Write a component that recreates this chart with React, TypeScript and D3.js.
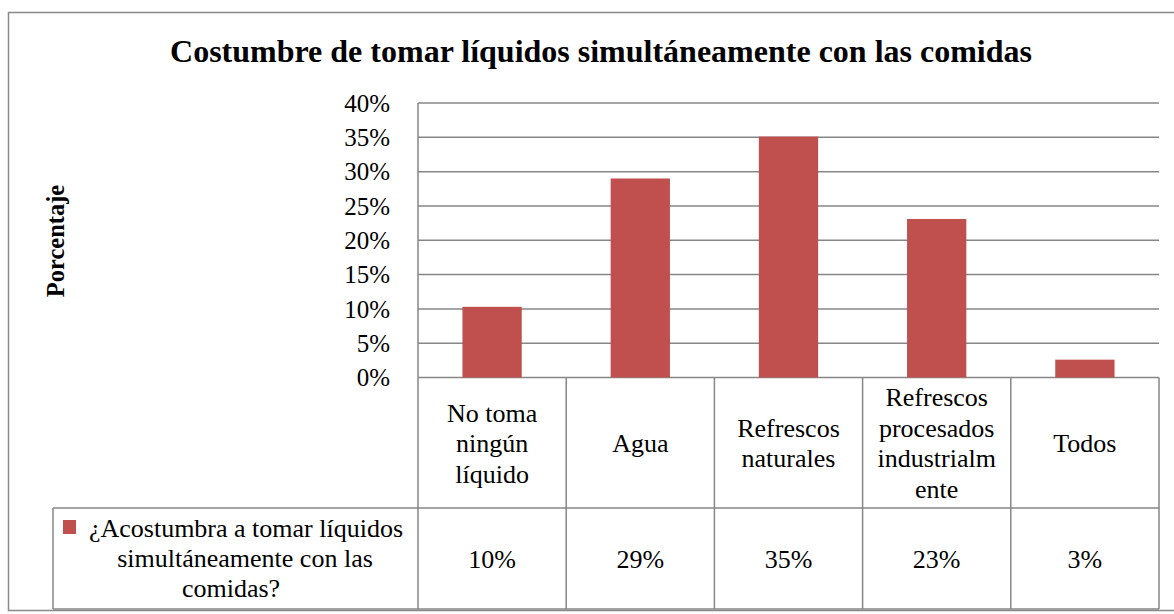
import React from "react";
import * as d3 from "d3";

const categories: string[][] = [
  ["No toma", "ningún", "líquido"],
  ["Agua"],
  ["Refrescos", "naturales"],
  ["Refrescos", "procesados", "industrialm", "ente"],
  ["Todos"],
];
const values = [0.103, 0.29, 0.351, 0.231, 0.026];
const yTicks = [0, 0.05, 0.1, 0.15, 0.2, 0.25, 0.3, 0.35, 0.4];
const seriesName = ["¿Acostumbra a tomar líquidos", "simultáneamente con las", "comidas?"];
const title = "Costumbre de tomar líquidos simultáneamente con las comidas";
const yTitle = "Porcentaje";

const W = 1174;
const H = 614;
const font = "Liberation Serif";
const gridColor = "#868686";
const barColor = "#C0504D";

export default function App() {
  const plot = { left: 418, right: 1159, top: 103, bottom: 377.5 };
  const headerBottom = 508;
  const tableBottom = 609;
  const legendLeft = 53;

  const idx = categories.map((_, i) => String(i));
  const x = d3
    .scaleBand()
    .domain(idx)
    .range([plot.left, plot.right])
    .paddingInner(0.6)
    .paddingOuter(0.3);
  const y = d3.scaleLinear().domain([0, 0.4]).range([plot.bottom, plot.top]);
  const fmt = d3.format(".0%");
  const step = x.step();
  const lineH = 30.5;
  const legendX = [246, 245, 231];

  return (
    <svg width={W} height={H} style={{ position: "absolute", left: 0, top: 0 }}>
      <rect x={0} y={0} width={W} height={H} fill="#fff" />
      <rect x={8.5} y={12.5} width={1175} height={598} fill="#fff" stroke="#898989" strokeWidth={1.5} />

      <g fontFamily={font} fill="#000">
        <text x={601} y={62} textAnchor="middle" fontSize={32} fontWeight="bold">
          {title}
        </text>
        <text
          transform={`translate(64,241) rotate(-90)`}
          textAnchor="middle"
          fontSize={24.5}
          fontWeight="bold"
        >
          {yTitle}
        </text>

        {yTicks.map((t) => (
          <g key={t}>
            <line x1={plot.left} x2={plot.right} y1={y(t)} y2={y(t)} stroke={gridColor} strokeWidth={1.5} />
            <text x={390} y={y(t)} dy="0.35em" textAnchor="end" fontSize={25}>
              {fmt(t)}
            </text>
          </g>
        ))}

        {values.map((v, i) => (
          <rect
            key={i}
            x={x(String(i))}
            y={y(v)}
            width={x.bandwidth()}
            height={y(0) - y(v)}
            fill={barColor}
          />
        ))}

        {/* data table */}
        <g stroke={gridColor} strokeWidth={1.5} fill="none">
          <line x1={plot.left} x2={plot.left} y1={plot.top} y2={tableBottom} />
          {idx.map((d, i) => (
            <line
              key={d}
              x1={plot.left + step * (i + 1)}
              x2={plot.left + step * (i + 1)}
              y1={plot.bottom}
              y2={tableBottom}
            />
          ))}
          <line x1={legendLeft} x2={plot.right} y1={headerBottom} y2={headerBottom} />
          <line x1={legendLeft} x2={plot.right} y1={tableBottom} y2={tableBottom} />
          <line x1={legendLeft} x2={legendLeft} y1={headerBottom} y2={tableBottom} />
        </g>

        {categories.map((lines, i) => {
          const cx = (x(String(i)) as number) + x.bandwidth() / 2;
          const mid = 452;
          return (
            <g key={i}>
              {lines.map((l, j) => (
                <text
                  key={j}
                  x={cx}
                  y={mid + (j - (lines.length - 1) / 2) * lineH}
                  textAnchor="middle"
                  fontSize={26}
                >
                  {l}
                </text>
              ))}
              <text x={cx} y={568} textAnchor="middle" fontSize={26}>
                {fmt(values[i])}
              </text>
            </g>
          );
        })}

        <rect x={63} y={520} width={13} height={14} fill={barColor} />
        {seriesName.map((l, j) => (
          <text key={j} x={legendX[j]} y={537 + j * 30} textAnchor="middle" fontSize={26}>
            {l}
          </text>
        ))}
      </g>
    </svg>
  );
}
